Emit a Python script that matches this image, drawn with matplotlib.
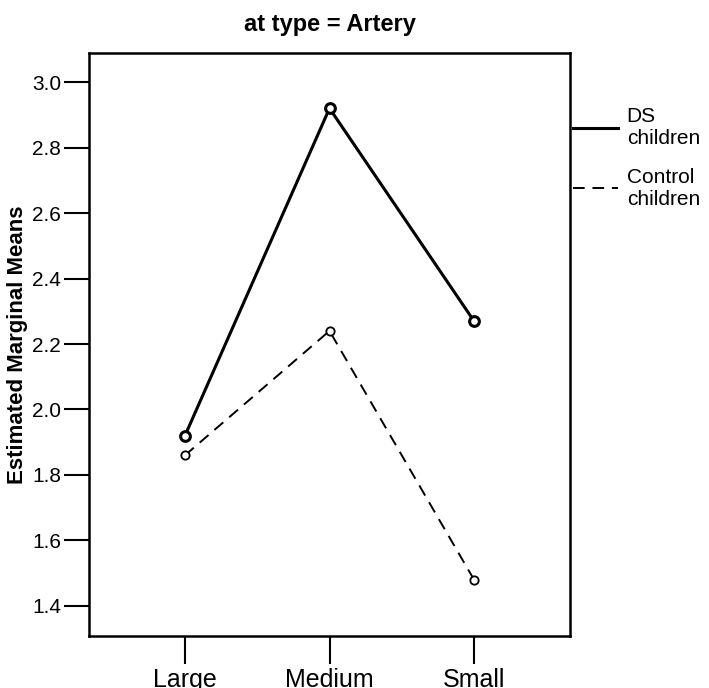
import matplotlib.pyplot as plt

plt.rcParams['font.family'] = ['Liberation Sans', 'DejaVu Sans']

# vessel size categories and estimated marginal means per group
sizes = ['Large', 'Medium', 'Small']
ds_means = [1.92, 2.92, 2.27]
control_means = [1.86, 2.24, 1.48]
y_ticks = [1.4, 1.6, 1.8, 2.0, 2.2, 2.4, 2.6, 2.8, 3.0]

fig = plt.figure(figsize=(7.09, 6.88), dpi=100)
ax = fig.add_axes([89 / 709, 1 - 636 / 688, (570 - 89) / 709, (636 - 53) / 688])

x = range(len(sizes))
ax.plot(x, ds_means, color='black', lw=2.2, marker='o', ms=7,
        mfc='white', mec='black', mew=2.2)
ax.plot(x, control_means, color='black', lw=1.4, ls=(0, (6, 4)), marker='o', ms=6,
        mfc='white', mec='black', mew=1.3)

ax.set_xlim(-0.664, 2.664)
ax.set_ylim(1.308, 3.089)
ax.set_xticks(list(x))
ax.set_xticklabels(sizes, fontsize=18)
ax.set_yticks(y_ticks)
ax.set_yticklabels([f'{v:.1f}' for v in y_ticks], fontsize=15)
ax.tick_params(axis='x', direction='out', length=20, width=1.5, pad=3)
ax.tick_params(axis='y', direction='out', length=18, width=1.5, pad=2)
for s in ax.spines.values():
    s.set_linewidth(1.8)

ax.set_ylabel('Estimated Marginal Means', fontsize=16, fontweight='bold', labelpad=3)
ax.set_title('at type = Artery', fontsize=17, fontweight='bold', pad=16)

# legend sits just outside the right spine, line handles only
h1, = ax.plot([], [], color='black', lw=2.2)
h2, = ax.plot([], [], color='black', lw=1.4, ls=(0, (6, 4)))
ax.legend([h1, h2], ['DS\nchildren', 'Control\nchildren'], loc='upper left',
          bbox_to_anchor=(573 / 709, 1 - 107 / 688), bbox_transform=fig.transFigure,
          frameon=False, fontsize=15, handlelength=2.15, handletextpad=0.43,
          labelspacing=0.95, borderpad=0, borderaxespad=0)

fig.savefig('out.png', dpi=100)
